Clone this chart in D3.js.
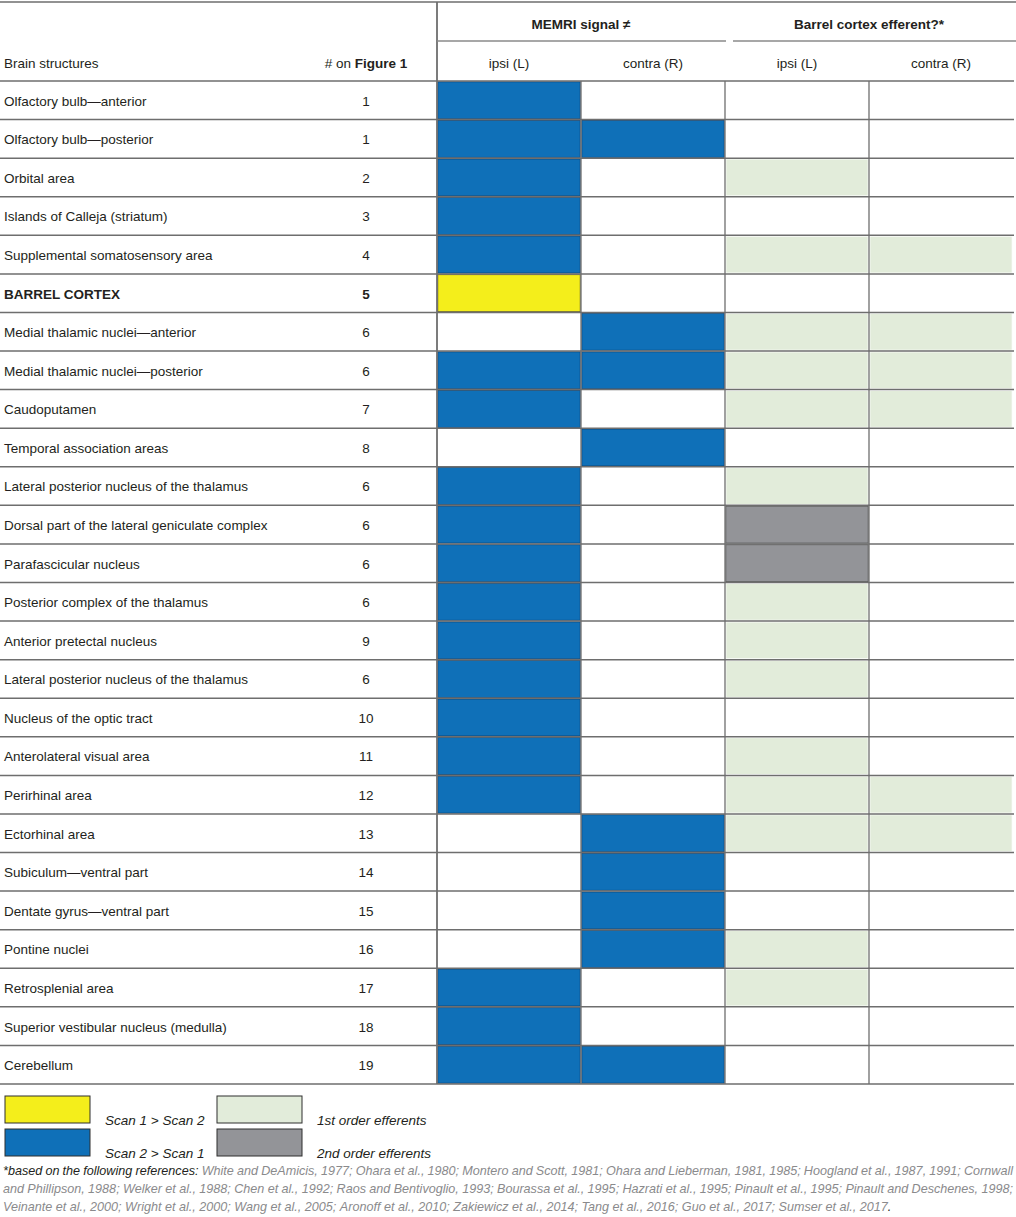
<!DOCTYPE html>
<html><head><meta charset="utf-8">
<script src="https://cdn.jsdelivr.net/npm/d3@7"></script>
<style>html,body{margin:0;padding:0;background:#fff}svg{display:block}</style>
</head><body>
<svg id="chart" width="1016" height="1217"></svg>
<script>
// ---------- data ----------
const structures = [
  "Olfactory bulb\u2014anterior","Olfactory bulb\u2014posterior","Orbital area","Islands of Calleja (striatum)",
  "Supplemental somatosensory area","BARREL CORTEX","Medial thalamic nuclei\u2014anterior","Medial thalamic nuclei\u2014posterior",
  "Caudoputamen","Temporal association areas","Lateral posterior nucleus of the thalamus","Dorsal part of the lateral geniculate complex",
  "Parafascicular nucleus","Posterior complex of the thalamus","Anterior pretectal nucleus","Lateral posterior nucleus of the thalamus",
  "Nucleus of the optic tract","Anterolateral visual area","Perirhinal area","Ectorhinal area",
  "Subiculum\u2014ventral part","Dentate gyrus\u2014ventral part","Pontine nuclei","Retrosplenial area",
  "Superior vestibular nucleus (medulla)","Cerebellum"];
const figureNumbers = [1,1,2,3,4,5,6,6,7,8,6,6,6,6,9,6,10,11,12,13,14,15,16,17,18,19];
// codes: 0 none, 1 Scan1>Scan2 (yellow), 2 Scan2>Scan1 (blue)
const memriIpsi   = [2,2,2,2,2,1,0,2,2,0,2,2,2,2,2,2,2,2,2,0,0,0,0,2,2,2];
const memriContra = [0,2,0,0,0,0,2,2,0,2,0,0,0,0,0,0,0,0,0,2,2,2,2,0,0,2];
// codes: 0 none, 3 first order (green), 4 second order (gray)
const barrelIpsi   = [0,0,3,0,3,0,3,3,3,0,3,4,4,3,3,3,0,3,3,3,0,0,3,3,0,0];
const barrelContra = [0,0,0,0,3,0,3,3,3,0,0,0,0,0,0,0,0,0,3,3,0,0,0,0,0,0];
const columnLabels = ["ipsi (L)","contra (R)","ipsi (L)","contra (R)"];
const groupLabels = ["MEMRI signal \u2260","Barrel cortex efferent?*"];
const legendItems = [
  {code:1,label:"Scan 1 > Scan 2"},{code:2,label:"Scan 2 > Scan 1"},
  {code:3,label:"1st order efferents"},{code:4,label:"2nd order efferents"}];
const footLead = "*based on the following references:";
const footRefs = "White and DeAmicis, 1977; Ohara et al., 1980; Montero and Scott, 1981; Ohara and Lieberman, 1981, 1985; Hoogland et al., 1987, 1991; Cornwall and Phillipson, 1988; Welker et al., 1988; Chen et al., 1992; Raos and Bentivoglio, 1993; Bourassa et al., 1995; Hazrati et al., 1995; Pinault et al., 1995; Pinault and Deschenes, 1998; Veinante et al., 2000; Wright et al., 2000; Wang et al., 2005; Aronoff et al., 2010; Zakiewicz et al., 2014; Tang et al., 2016; Guo et al., 2017; Sumser et al., 2017";

// ---------- styles ----------
const fillColor = {1:"#f4ee1b",2:"#0f70b8",3:"#e2ecda",4:"#939498"};
const edgeColor = {1:"#5a5520",2:"#0b3f6e",3:"#ffffff",4:"#4a4a4a"};
const FONT = "'Liberation Sans', Arial, Helvetica, sans-serif";
const TXT = "#231f20";
const GRID = "#6e6e6e";

const svg = d3.select("#chart").style("font-family", FONT);
const W = 1016;

const y = d3.scaleBand().domain(d3.range(structures.length)).range([81, 1084]);
const x = d3.scaleBand().domain(d3.range(4)).range([437, 1013]);
const xNum = 366;

const matrix = structures.map((s,i)=>[memriIpsi[i],memriContra[i],barrelIpsi[i],barrelContra[i]]);

// cells
const cells = [];
matrix.forEach((row,i)=>row.forEach((v,j)=>{ if(v) cells.push({i,j,v}); }));
svg.append("g").selectAll("rect").data(cells).join("rect")
  .attr("x", d=>x(d.j)+0.8).attr("y", d=>y(d.i)+0.8)
  .attr("width", x.bandwidth()-1.6).attr("height", y.bandwidth()-1.6)
  .attr("fill", d=>fillColor[d.v])
  .attr("stroke", d=>edgeColor[d.v]).attr("stroke-width", d=>d.v===3?1:0.8);

// grid lines
const g = svg.append("g").attr("stroke", GRID).attr("stroke-width", 1.5);
g.append("line").attr("x1",0).attr("x2",W).attr("y1",2).attr("y2",2);
g.selectAll("line.h").data(d3.range(structures.length+1)).join("line").attr("class","h")
  .attr("x1",0).attr("x2",1014)
  .attr("y1", i=> i<structures.length ? y(i) : y(structures.length-1)+y.bandwidth())
  .attr("y2", i=> i<structures.length ? y(i) : y(structures.length-1)+y.bandwidth());
g.append("line").attr("x1",437).attr("x2",437).attr("y1",2).attr("y2",1084).attr("stroke-width",1.8);
g.selectAll("line.v").data([1,2,3]).join("line").attr("class","v")
  .attr("x1", j=>x(j)).attr("x2", j=>x(j)).attr("y1",81).attr("y2",1084).attr("stroke-width",1.3);
// group sub lines
g.append("line").attr("x1",437).attr("x2",726).attr("y1",41).attr("y2",41).attr("stroke","#8a8a8a");
g.append("line").attr("x1",733).attr("x2",1016).attr("y1",41).attr("y2",41).attr("stroke","#8a8a8a");

// header text
const hdr = svg.append("g").attr("fill", TXT).attr("font-size", 13.5);
hdr.selectAll("text.grp").data(groupLabels).join("text").attr("class","grp")
  .attr("x",(d,k)=> k===0 ? x(1) : x(3)).attr("y",29).attr("text-anchor","middle")
  .attr("font-weight","bold").text(d=>d);
hdr.selectAll("text.col").data(columnLabels).join("text").attr("class","col")
  .attr("x",(d,j)=>x(j)+x.bandwidth()/2).attr("y",68).attr("text-anchor","middle").text(d=>d);
hdr.append("text").attr("x",4).attr("y",68).text("Brain structures");
const fh = hdr.append("text").attr("x",xNum).attr("y",68).attr("text-anchor","middle");
fh.append("tspan").text("# on ");
fh.append("tspan").attr("font-weight","bold").text("Figure 1");

// body text
const body = svg.append("g").attr("fill", TXT).attr("font-size", 13.5);
body.selectAll("text.s").data(structures).join("text").attr("class","s")
  .attr("x",4).attr("y",(d,i)=>y(i)+y.bandwidth()/2+5.4)
  .attr("font-weight",(d,i)=>i===5?"bold":null).text(d=>d);
body.selectAll("text.n").data(figureNumbers).join("text").attr("class","n")
  .attr("x",xNum).attr("y",(d,i)=>y(i)+y.bandwidth()/2+5.4).attr("text-anchor","middle")
  .attr("font-weight",(d,i)=>i===5?"bold":null).text(d=>d);

// legend
const lg = svg.append("g");
const legPos = [{x:5,y:1096},{x:5,y:1129},{x:217,y:1096},{x:217,y:1129}];
lg.selectAll("rect").data(legendItems).join("rect")
  .attr("x",(d,k)=>legPos[k].x).attr("y",(d,k)=>legPos[k].y)
  .attr("width",85).attr("height",27)
  .attr("fill",d=>fillColor[d.code]).attr("stroke","#2f2f2f").attr("stroke-width",1);
lg.selectAll("text").data(legendItems).join("text")
  .attr("x",(d,k)=>legPos[k].x+100).attr("y",(d,k)=>legPos[k].y+29)
  .attr("font-size",13.5).attr("font-style","italic").attr("fill",TXT).text(d=>d.label);

// footnote (justified)
const fn = svg.append("g").attr("font-size",12.6).attr("font-style","italic");
const words = [];
footLead.split(" ").forEach(w=>words.push({w,c:"#231f20"}));
footRefs.split(" ").forEach(w=>words.push({w,c:"#8a8a8c"}));
const meas = fn.append("text").attr("visibility","hidden");
function wlen(s){ meas.text(s); return meas.node().getComputedTextLength(); }
const spaceW = wlen("a b") - wlen("ab");
words.forEach(d=>d.len=wlen(d.w));
const breaks = ["Cornwall","1998;"]; // line-ending words as in reference
const lines=[[]];
words.forEach(d=>{ lines[lines.length-1].push(d); if(breaks.includes(d.w) && lines.length<3) lines.push([]); });
const L = 3, R = 1013, baseY = [1175, 1193, 1211];
lines.forEach((ln,li)=>{
  const total = d3.sum(ln,d=>d.len);
  const gap = li<lines.length-1 ? (R-L-total)/(ln.length-1) : spaceW;
  let cx = L;
  ln.forEach(d=>{
    fn.append("text").attr("x",cx).attr("y",baseY[li]).attr("fill",d.c).text(d.w);
    cx += d.len + gap;
  });
  if(li===lines.length-1){
    fn.append("text").attr("x",cx-gap).attr("y",baseY[li]).attr("fill","#231f20").text(".");
  }
});
meas.remove();
</script>
</body></html>
